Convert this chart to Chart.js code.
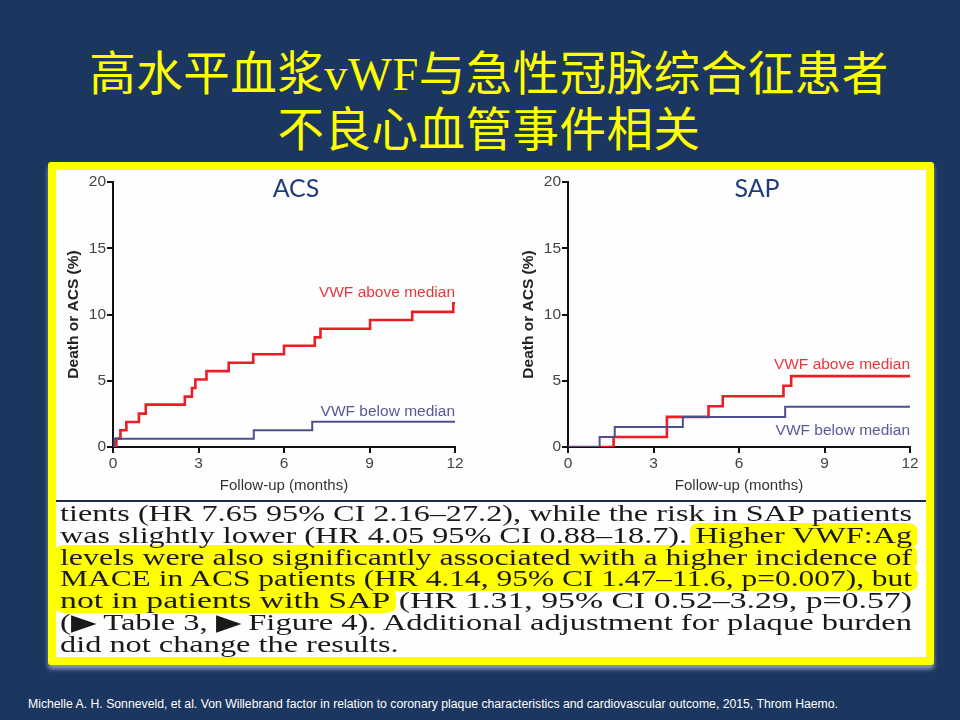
<!DOCTYPE html>
<html>
<head>
<meta charset="utf-8">
<script src="https://cdn.jsdelivr.net/npm/chart.js@4.4.0/dist/chart.umd.min.js"></script>
<style>
body { margin:0; width:960px; height:720px; background:#1c375f; position:relative; overflow:hidden; font-family:'Liberation Sans', Arial, sans-serif; }
.title { position:absolute; left:9px; width:960px; text-align:center; color:#ffff00; font-family:'Noto Sans CJK SC', sans-serif; font-size:46.5px; letter-spacing:0.5px; line-height:56px; white-space:nowrap; }
#t1 { top:42px; }
#t2 { top:98px; }
.latin { font-family:'Liberation Serif', serif; }
#frame { position:absolute; left:48px; top:162px; width:886px; height:503px; background:#ffff00; border-radius:3px; box-shadow:0 4px 4px rgba(190,200,215,0.7); }
#inner { position:absolute; left:8px; top:8px; width:870px; height:487px; background:#fefefe; }
#sep { position:absolute; left:56px; top:500px; width:870px; height:2px; background:#1d2b4a; }
canvas { position:absolute; }
.panel { position:absolute; color:#1f3d7a; font-family:Lato, sans-serif; font-size:25px; line-height:30px; transform:translateX(-50%); }
#para { position:absolute; left:60px; top:503px; font-family:'Liberation Serif', serif; font-size:22.5px; line-height:21.8px; color:#1a1a1a; }
.ln { display:block; white-space:nowrap; width:max-content; transform-origin:left center; mix-blend-mode:multiply; }
.hl { background:#ffff00; border-radius:7px; padding:0 4px; margin:0 -4px; }
#foot { position:absolute; left:28px; top:697px; color:#fff; font-family:'Liberation Sans Narrow', 'Liberation Sans', sans-serif; font-size:12px; white-space:nowrap; transform-origin:left center; }
</style>
</head>
<body>
<div class="title" id="t1">高水平血浆<span class="latin">vWF</span>与急性冠脉综合征患者</div>
<div class="title" id="t2">不良心血管事件相关</div>

<div id="frame"><div id="inner"></div></div>
<div id="sep"></div>

<canvas id="acs" width="420" height="330" style="left:56px; top:170px;"></canvas>
<canvas id="sap" width="426" height="330" style="left:500px; top:170px;"></canvas>
<div class="panel" style="left:296px; top:172px;">ACS</div>
<div class="panel" style="left:757px; top:172px;">SAP</div>

<div id="para">
  <div class="ln">tients (HR 7.65 95% CI 2.16–27.2), while the risk in SAP patients</div>
  <div class="ln">was slightly lower (HR 4.05 95% CI 0.88–18.7). <span class="hl">Higher VWF:Ag</span></div>
  <div class="ln"><span class="hl">levels were also significantly associated with a higher incidence of</span></div>
  <div class="ln"><span class="hl">MACE in ACS patients (HR 4.14, 95% CI 1.47–11.6, p=0.007), but</span></div>
  <div class="ln"><span class="hl">not in patients with SAP</span> (HR 1.31, 95% CI 0.52–3.29, p=0.57)</div>
  <div class="ln">(&#9654;&#8201;Table 3, &#9654;&#8201;Figure 4). Additional adjustment for plaque burden</div>
  <div class="ln" id="last">did not change the results.</div>
</div>

<div id="foot">Michelle A. H. Sonneveld, et al. Von Willebrand factor in relation to coronary plaque characteristics and cardiovascular outcome, 2015, Throm Haemo.</div>

<script>
// du lieu Kaplan-Meier (thang, %)
var acsAboveMonths = [0, 0.12, 0.26, 0.47, 0.91, 1.15, 2.52, 2.77, 2.89, 3.28, 4.06, 4.92, 6.0, 7.08, 7.28, 9.02, 10.5, 11.94, 12];
var acsAboveRisk   = [0, 0.63, 1.26, 1.89, 2.52, 3.2, 3.8, 4.45, 5.1, 5.73, 6.36, 7.0, 7.64, 8.27, 8.93, 9.58, 10.2, 10.85, 10.85];
var acsBelowMonths = [0, 0.05, 4.94, 6.99, 12];
var acsBelowRisk   = [0, 0.63, 1.26, 1.9, 1.9];

var sapAboveMonths = [0, 1.6, 3.47, 4.93, 5.43, 7.56, 7.83, 12];
var sapAboveRisk   = [0, 0.76, 2.27, 3.08, 3.83, 4.62, 5.35, 5.35];
var sapBelowMonths = [0, 1.11, 1.64, 4.03, 7.62, 12];
var sapBelowRisk   = [0, 0.76, 1.51, 2.27, 3.03, 3.03];

var monthTicks = [0, 3, 6, 9, 12];
var riskTicks = [0, 5, 10, 15, 20];
var seriesNames = ['VWF above median', 'VWF below median'];

Chart.defaults.font.family = "'Liberation Sans', Arial, sans-serif";

function toPoints(xs, ys) {
  var pts = [];
  for (var i = 0; i < xs.length; i++) pts.push({x: xs[i], y: ys[i]});
  return pts;
}

// ghi ten duong cong canh phai
var curveLabels = {
  id: 'curveLabels',
  afterDatasetsDraw: function (chart, args, o) {
    var ctx = chart.ctx;
    var xs = chart.scales.x, ys = chart.scales.y;
    ctx.save();
    ctx.font = '15.5px "Liberation Sans", Arial, sans-serif';
    ctx.textAlign = 'right';
    ctx.textBaseline = 'middle';
    o.items.forEach(function (it) {
      ctx.fillStyle = it.color;
      ctx.fillText(it.text, xs.getPixelForValue(xs.max), ys.getPixelForValue(it.y));
    });
    ctx.restore();
  }
};

function makeChart(id, above, below, yWidth, rightPad, yTitlePad, labelY) {
  var ctx = document.getElementById(id).getContext('2d');
  return new Chart(ctx, {
    type: 'line',
    data: {
      datasets: [{
        label: seriesNames[1],
        data: below,
        borderColor: '#4f4f8c',
        borderWidth: 2,
        pointRadius: 0,
        stepped: true,
        fill: false
      }, {
        label: seriesNames[0],
        data: above,
        borderColor: '#ee1c24',
        borderWidth: 2.6,
        pointRadius: 0,
        stepped: true,
        fill: false
      }]
    },
    plugins: [curveLabels],
    options: {
      responsive: false,
      animation: false,
      layout: { padding: { top: 12, right: rightPad, left: 0, bottom: 0 } },
      plugins: {
        legend: { display: false },
        tooltip: { enabled: false },
        curveLabels: {
          items: [
            { text: seriesNames[0], y: labelY[0], color: '#e8383d' },
            { text: seriesNames[1], y: labelY[1], color: '#58589a' }
          ]
        }
      },
      scales: {
        x: {
          type: 'linear', min: 0, max: 12,
          afterBuildTicks: function (s) { s.ticks = monthTicks.map(function (v) { return {value: v}; }); },
          ticks: { color: '#444', font: { size: 15.5 }, padding: 1 },
          grid: { drawOnChartArea: false, drawTicks: true, tickLength: 6, color: '#111', lineWidth: 2 },
          border: { color: '#111', width: 2 },
          title: { display: true, text: 'Follow-up (months)', color: '#333', font: { size: 15 }, padding: { top: 0, bottom: 5 } },
          afterFit: function (s) { s.height = 53; }
        },
        y: {
          type: 'linear', min: 0, max: 20,
          afterBuildTicks: function (s) { s.ticks = riskTicks.map(function (v) { return {value: v}; }); },
          ticks: { color: '#444', font: { size: 15.5 }, padding: 1 },
          grid: { drawOnChartArea: false, drawTicks: true, tickLength: 6, color: '#111', lineWidth: 2 },
          border: { color: '#111', width: 2 },
          title: { display: true, text: 'Death or ACS (%)', color: '#222', font: { size: 15.5, weight: 'bold' }, padding: { top: yTitlePad, bottom: 0 } },
          afterFit: function (s) { s.width = yWidth; }
        }
      }
    }
  });
}

makeChart('acs', toPoints(acsAboveMonths, acsAboveRisk), toPoints(acsBelowMonths, acsBelowRisk), 57, 21, 8, [11.65, 2.65]);
makeChart('sap', toPoints(sapAboveMonths, sapAboveRisk), toPoints(sapBelowMonths, sapBelowRisk), 68, 16, 19, [6.23, 1.26]);

// can chinh do rong cac dong chu
var lines = document.querySelectorAll('#para .ln');
var sum = 0;
for (var i = 0; i < lines.length - 1; i++) {
  var k = 852 / lines[i].getBoundingClientRect().width;
  lines[i].style.transform = 'scaleX(' + k + ')';
  sum += k;
}
document.getElementById('last').style.transform = 'scaleX(' + (sum / (lines.length - 1)) + ')';
var foot = document.getElementById('foot');
foot.style.transform = 'scaleX(' + (810 / foot.getBoundingClientRect().width) + ')';
</script>
</body>
</html>
